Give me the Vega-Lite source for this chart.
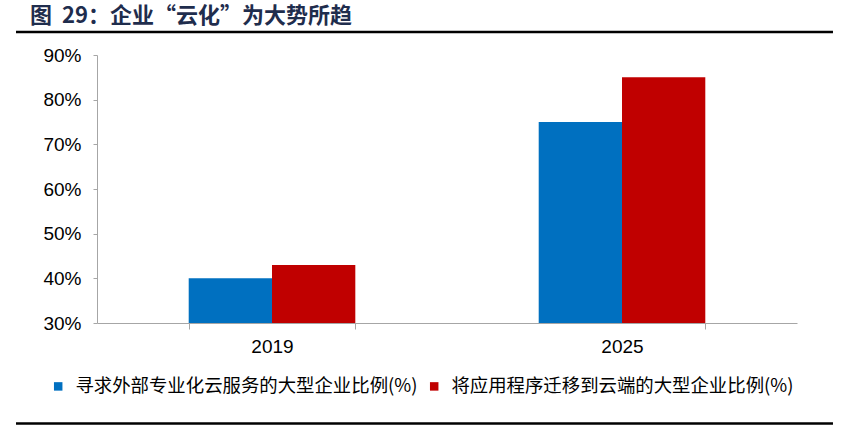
{
  "$schema": "https://vega.github.io/schema/vega-lite/v6.json",
  "width": 700,
  "height": 268,
  "autosize": {"type": "none"},
  "padding": {"left": 97, "top": 55, "right": 48, "bottom": 105},
  "background": "white",
  "config": {
    "view": {"stroke": null},
    "font": "Liberation Sans"
  },
  "title": {
    "text": "图\u00a0 29：企业“云化”为大势所趋",
    "anchor": "start",
    "frame": "group",
    "dx": -67,
    "offset": 3,
    "font": "Noto Sans CJK SC",
    "fontSize": 22,
    "fontWeight": "bold",
    "color": "#1f2d4d"
  },
  "data": {
    "values": [
      {"year": "2019", "series": "寻求外部专业化云服务的大型企业比例(%)", "value": 0.40},
      {"year": "2019", "series": "将应用程序迁移到云端的大型企业比例(%)", "value": 0.43},
      {"year": "2025", "series": "寻求外部专业化云服务的大型企业比例(%)", "value": 0.75},
      {"year": "2025", "series": "将应用程序迁移到云端的大型企业比例(%)", "value": 0.85}
    ]
  },
  "layer": [
    {
      "mark": {"type": "bar", "clip": true},
      "encoding": {
        "x": {
          "field": "year",
          "type": "nominal",
          "title": null,
          "scale": {"paddingInner": 0.524, "paddingOuter": 0.262},
          "axis": {
            "labelAngle": 0,
            "tickBand": "extent",
            "tickSize": 6,
            "domainColor": "#a6a6a6",
            "tickColor": "#a6a6a6",
            "labelFontSize": 19,
            "labelColor": "#000000",
            "labelPadding": 8
          }
        },
        "xOffset": {
          "field": "series",
          "type": "nominal",
          "sort": ["寻求外部专业化云服务的大型企业比例(%)", "将应用程序迁移到云端的大型企业比例(%)"]
        },
        "y": {
          "field": "value",
          "type": "quantitative",
          "title": null,
          "scale": {"domain": [0.3, 0.9], "zero": false, "nice": false},
          "axis": {
            "values": [0.3, 0.4, 0.5, 0.6, 0.7, 0.8, 0.9],
            "format": ".0%",
            "grid": false,
            "tickSize": 4,
            "domainColor": "#a6a6a6",
            "tickColor": "#a6a6a6",
            "labelFontSize": 19,
            "labelColor": "#000000",
            "labelPadding": 12
          }
        },
        "y2": {"datum": 0.3},
        "color": {
          "field": "series",
          "type": "nominal",
          "scale": {
            "domain": ["寻求外部专业化云服务的大型企业比例(%)", "将应用程序迁移到云端的大型企业比例(%)"],
            "range": ["#0070c0", "#c00000"]
          },
          "legend": {
            "orient": "none",
            "legendX": -48,
            "legendY": 322,
            "direction": "horizontal",
            "title": null,
            "symbolType": "square",
            "symbolSize": 72,
            "symbolStrokeWidth": 0,
            "symbolOpacity": 1,
            "labelFont": "Noto Sans CJK SC",
            "labelFontSize": 18.4,
            "labelColor": "#000000",
            "labelOffset": 8,
            "columnPadding": 7,
            "labelLimit": 500
          }
        }
      }
    },
    {
      "data": {"values": [{}]},
      "mark": {"type": "rule", "strokeWidth": 2.5, "color": "#000000", "clip": false},
      "encoding": {
        "x": {"datum": -0.1157, "type": "quantitative", "scale": {"domain": [0, 1], "nice": false, "zero": false}, "axis": null},
        "x2": {"datum": 1.0514},
        "y": {"datum": 0.9514, "type": "quantitative", "scale": {"domain": [0.3, 0.9]}}
      }
    },
    {
      "data": {"values": [{}]},
      "mark": {"type": "rule", "strokeWidth": 2.5, "color": "#000000", "clip": false},
      "encoding": {
        "x": {"datum": -0.1157, "type": "quantitative", "scale": {"domain": [0, 1], "nice": false, "zero": false}, "axis": null},
        "x2": {"datum": 1.0514},
        "y": {"datum": 0.0748, "type": "quantitative", "scale": {"domain": [0.3, 0.9]}}
      }
    }
  ],
  "resolve": {"scale": {"x": "independent"}, "axis": {"x": "independent"}}
}
